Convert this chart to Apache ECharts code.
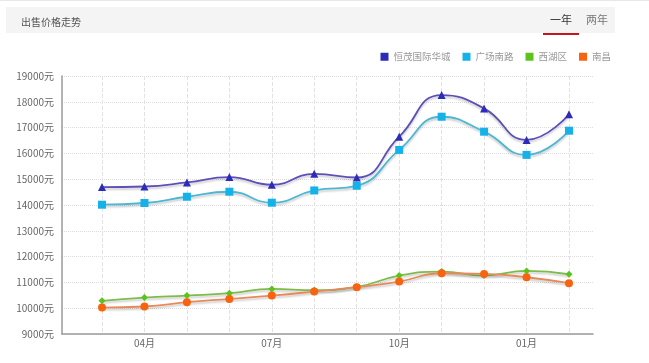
<!DOCTYPE html>
<html>
<head>
<meta charset="utf-8">
<script src="https://cdn.jsdelivr.net/npm/echarts@6/dist/echarts.min.js"></script>
<style>
html,body{margin:0;padding:0;background:#fff;}
#c{width:649px;height:363px;}
</style>
</head>
<body>
<div id="c"></div>
<script>
const months = ['03月','04月','05月','06月','07月','08月','09月','10月','11月','12月','01月','02月'];
const hengmao = [14695,14718,14873,15081,14784,15208,15066,16649,18259,17745,16521,17514];
const guangchang = [14012,14077,14320,14514,14089,14564,14745,16135,17421,16842,15942,16880];
const xihu = [10284,10413,10490,10581,10748,10697,10826,11265,11419,11265,11445,11316];
const nanchang = [10026,10065,10232,10361,10490,10645,10813,11032,11355,11329,11200,10968];
const seriesNames = ['恒茂国际华城','广场南路','西湖区','南昌'];
const yMin = 9000, yMax = 19000, yStep = 1000;

const font = 'Noto Sans CJK SC';
const chart = echarts.init(document.getElementById('c'));

function mkSeries(name, data, color, lineColor, symbol, size) {
  return {
    name: name, type: 'line', data: data, smooth: true,
    xAxisIndex: 1, yAxisIndex: 1,
    symbol: symbol, symbolSize: size, showSymbol: true,
    itemStyle: {color: color},
    lineStyle: {color: lineColor, width: 1.8, shadowColor: 'rgba(0,0,0,0.2)', shadowBlur: 2, shadowOffsetY: 2},
    emphasis: {disabled: true}
  };
}

chart.setOption({
  animation: false,
  textStyle: {fontFamily: font},
  title: {
    text: '出售价格走势', left: 16, top: 12,
    textStyle: {fontSize: 10, fontWeight: 'normal', color: '#555', fontFamily: font}
  },
  graphic: [
    {type: 'rect', z: -10, shape: {x: 0, y: 0, width: 649, height: 1}, style: {fill: '#e8e8e8'}},
    {type: 'rect', z: -10, shape: {x: 6, y: 7, width: 609, height: 26}, style: {fill: '#f4f4f4'}},
    {type: 'text', x: 561, y: 20, style: {text: '一年', fill: '#333', fontSize: 11, fontFamily: font, align: 'center', verticalAlign: 'middle'}},
    {type: 'text', x: 597, y: 20, style: {text: '两年', fill: '#777', fontSize: 11, fontFamily: font, align: 'center', verticalAlign: 'middle'}},
    {type: 'rect', shape: {x: 543, y: 33, width: 36, height: 2}, style: {fill: '#c5161d'}}
  ],
  legend: {
    data: seriesNames, right: 33, top: 47,
    icon: 'rect', itemWidth: 8, itemHeight: 8, itemGap: 12,
    textStyle: {fontSize: 9.5, color: '#999', fontFamily: font}
  },
  grid: [
    {left: 62, right: 56, top: 76, bottom: 29},
    {left: 102, right: 80, top: 76, bottom: 29}
  ],
  xAxis: [
    {gridIndex: 0, type: 'value', min: 0, max: 1,
     axisLine: {show: true, lineStyle: {color: '#9a9a9a', width: 1.5}},
     axisTick: {show: false}, axisLabel: {show: false}, splitLine: {show: false}},
    {gridIndex: 1, type: 'category', boundaryGap: false, data: months,
     axisLine: {show: false}, axisTick: {show: false},
     axisLabel: {interval: function (i) { return i % 3 === 1; }, fontSize: 10, color: '#666', margin: 4},
     splitLine: {show: true, interval: 0, lineStyle: {color: '#e2e2e2', type: 'dashed', width: 1}}}
  ],
  yAxis: [
    {gridIndex: 0, type: 'value', min: yMin, max: yMax, interval: yStep,
     axisLine: {show: true, lineStyle: {color: '#9a9a9a', width: 1.5}},
     axisTick: {show: false},
     axisLabel: {formatter: function (v) { return v + '元'; }, fontSize: 10, color: '#666', margin: 8, padding: [0, 0, 6, 0]},
     splitLine: {show: true, lineStyle: {color: '#dcdcdc', type: 'dotted', width: 1}}},
    {gridIndex: 1, type: 'value', min: yMin, max: yMax, interval: yStep,
     axisLine: {show: false}, axisTick: {show: false}, axisLabel: {show: false}, splitLine: {show: false}}
  ],
  series: [
    mkSeries(seriesNames[0], hengmao, '#2c2cb8', '#5c50b8', 'triangle', 8),
    mkSeries(seriesNames[1], guangchang, '#14b2e8', '#4db6d2', 'rect', 8),
    mkSeries(seriesNames[2], xihu, '#5cc31c', '#7dbb4a', 'diamond', 7),
    mkSeries(seriesNames[3], nanchang, '#f7630f', '#e8895a', 'circle', 8)
  ]
});
</script>
</body>
</html>
